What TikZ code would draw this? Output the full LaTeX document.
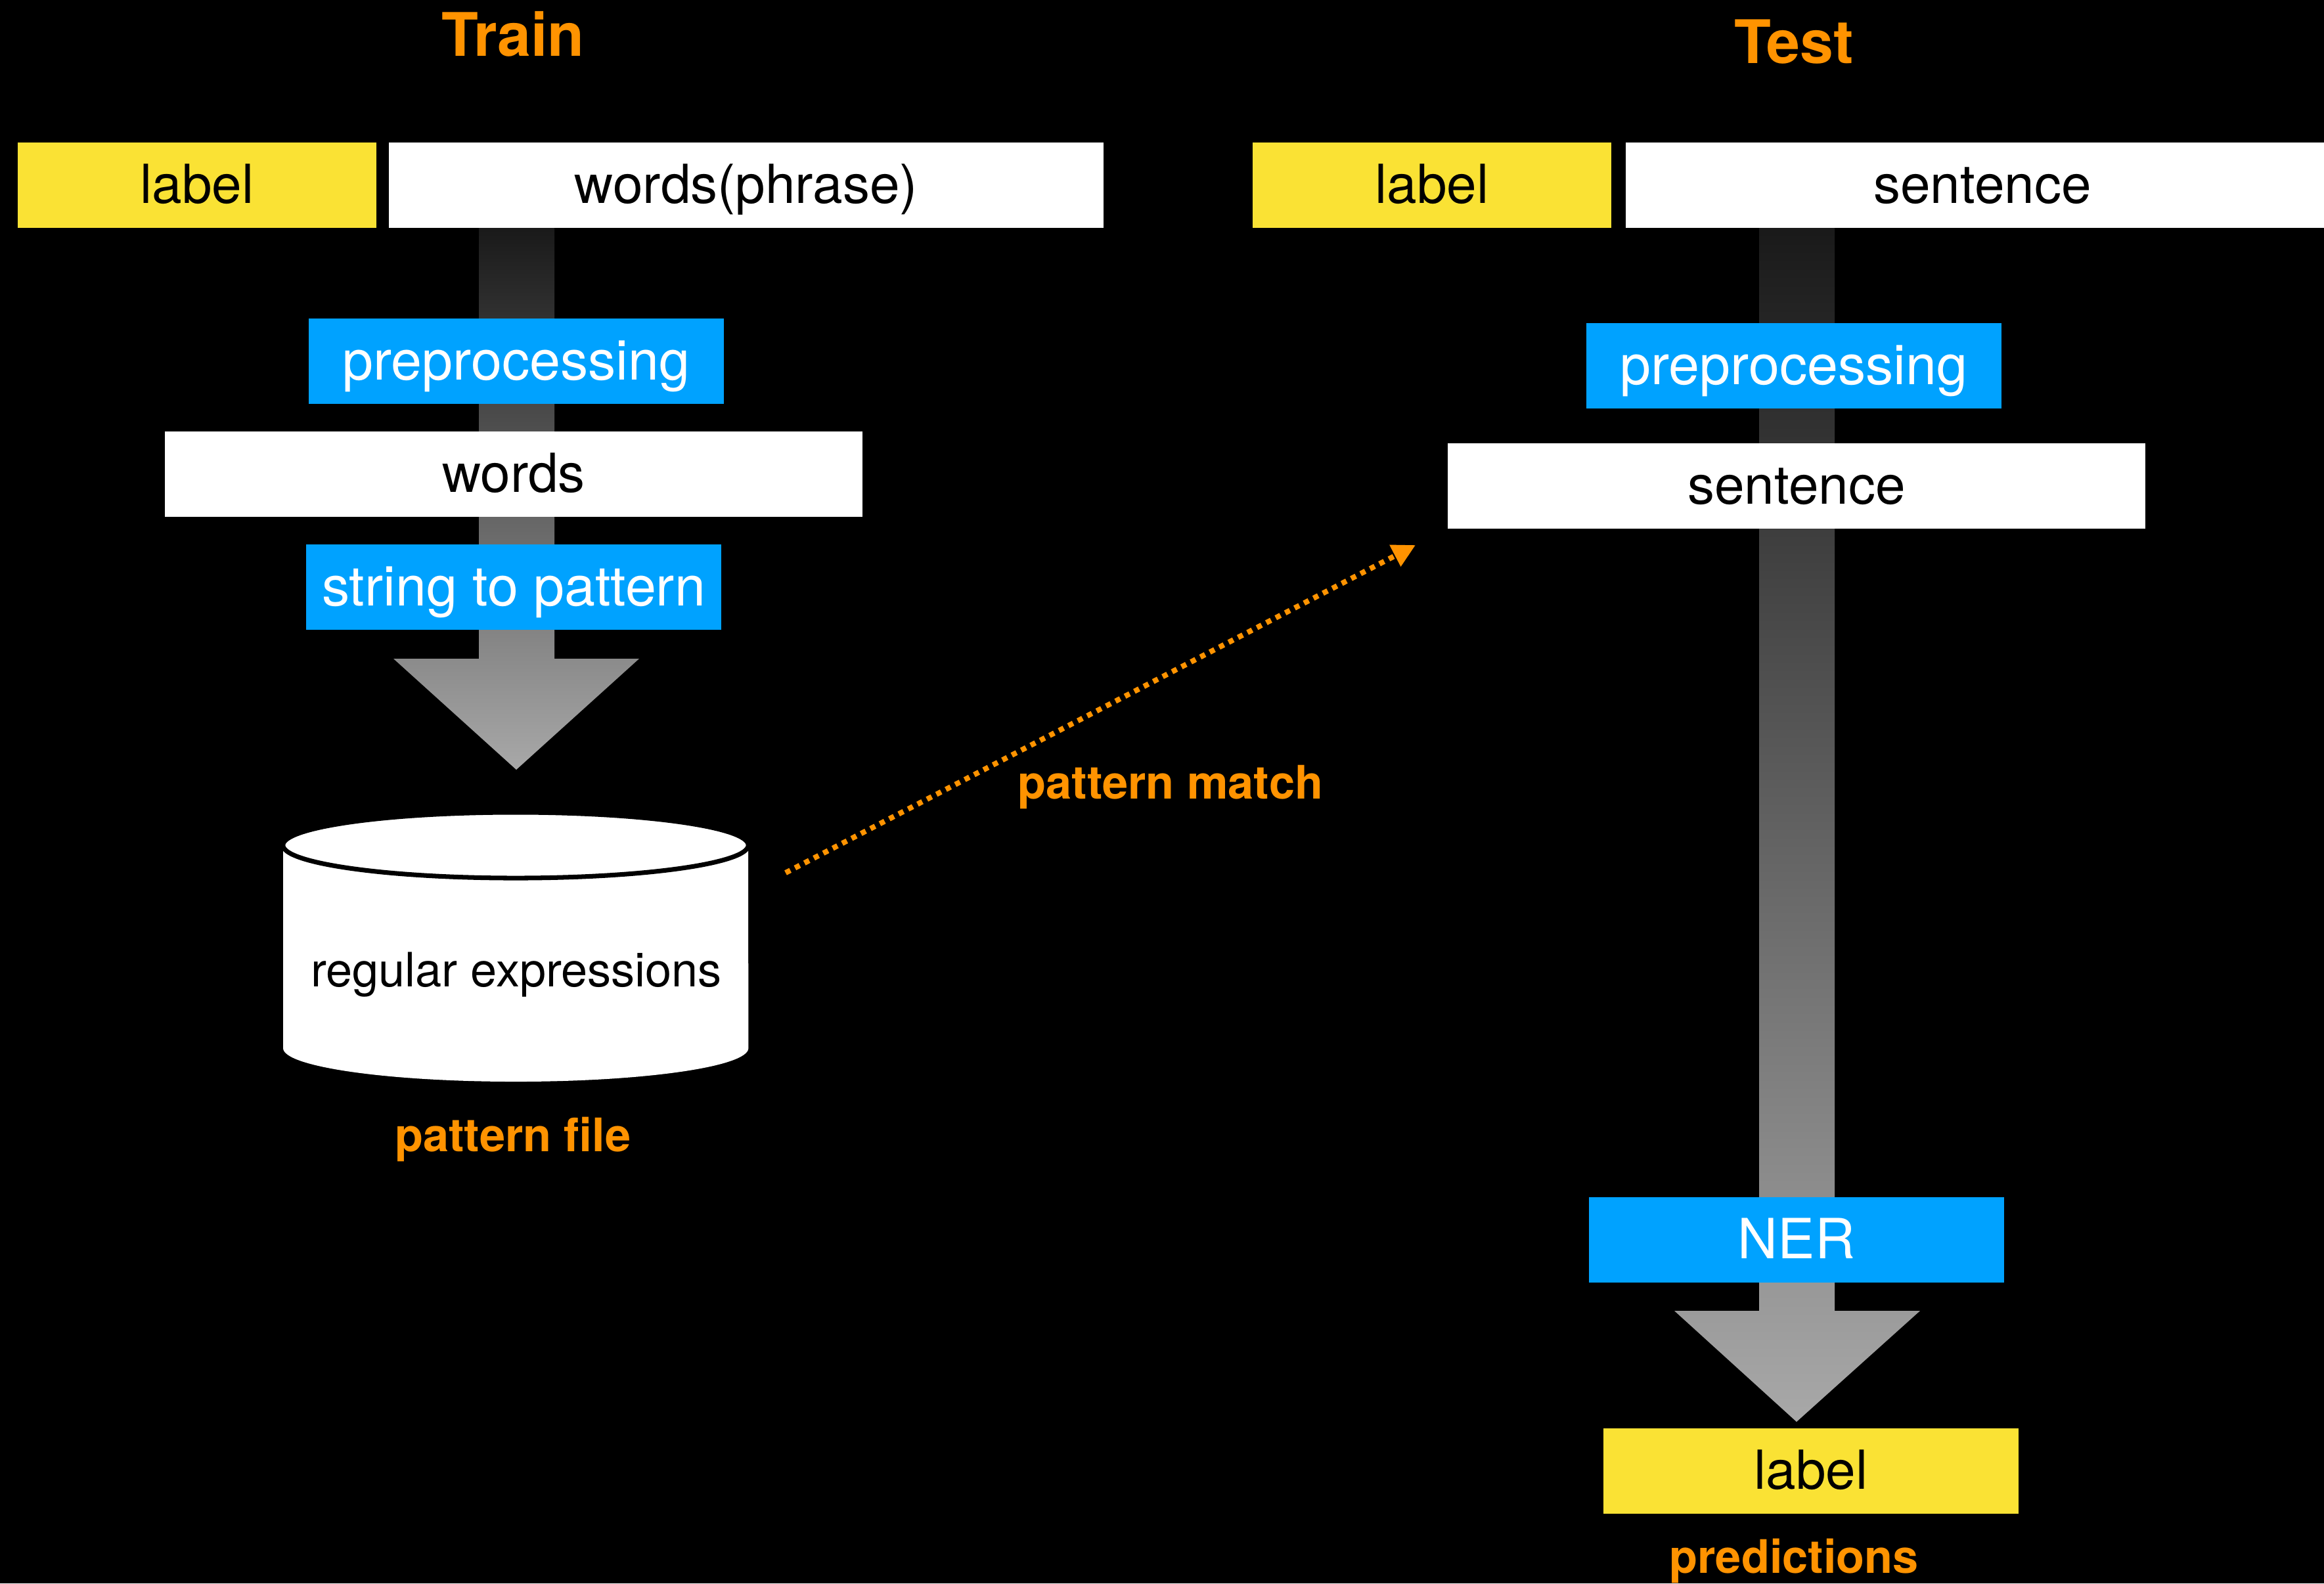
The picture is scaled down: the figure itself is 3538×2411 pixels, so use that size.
\documentclass[tikz,border=0pt]{standalone}
\usepackage{fontspec}
\setmainfont{TeX Gyre Heros}
\usetikzlibrary{arrows.meta}
\definecolor{kyellow}{RGB}{250,226,52}
\definecolor{kblue}{RGB}{0,162,255}
\definecolor{korange}{RGB}{255,147,0}
\begin{document}
\begin{tikzpicture}[x=0.01cm,y=-0.01cm,
  basebox/.style={inner sep=0pt, minimum height=1.30cm, text height=15.4pt, text depth=0pt,
    font=\fontsize{23.3pt}{28pt}\selectfont},
  ybox/.style={basebox, fill=kyellow, text=black},
  wbox/.style={basebox, fill=white, text=black},
  bluebox/.style={basebox, fill=kblue, text=white, text height=16pt, font=\fontsize{24pt}{28pt}\selectfont},
  heading/.style={text=korange, font=\fontsize{26pt}{30pt}\selectfont\bfseries, anchor=base, inner sep=0pt},
  caption/.style={text=korange, font=\fontsize{20pt}{24pt}\selectfont\bfseries, anchor=base, inner sep=0pt},
  flow/.style={top color=black!90, bottom color=black!34},
  matchline/.style={korange, line width=2.3pt, dash pattern=on 2.3pt off 2.3pt,
    -{Triangle[length=10pt,width=10pt]}}
]
% canvas
\fill[black] (0,0) rectangle (3538,2411);
\useasboundingbox (0,0) rectangle (3538,2411);
\clip (0,0) rectangle (3538,2411);

% block arrows (gradient)
\path[flow] (729,347) -- (844,347) -- (844,1003) -- (973,1003) -- (786,1172)
  -- (599,1003) -- (729,1003) -- cycle;
\path[flow] (2678,347) -- (2793,347) -- (2793,1996) -- (2923,1996) -- (2735,2165)
  -- (2549,1996) -- (2678,1996) -- cycle;

% titles
\node[heading] (train) at (781,85) {Train};
\node[heading] (test) at (2731,96) {Test};

% train column
\node[ybox, minimum width=5.46cm] (trlabel) at (300,282) {label};
\node[wbox, minimum width=10.88cm] (trwords) at (1136,282) {words(phrase)};
\node[bluebox, minimum width=6.32cm] (trpre) at (786,550) {preprocessing};
\node[wbox, minimum width=10.61cm] (words) at (782,722) {words};
\node[bluebox, minimum width=6.32cm, minimum height=1.29cm] (stp) at (782,894) {string to pattern};

% cylinder
\path[fill=white] (431,1286) -- (431,1596) arc[start angle=180, end angle=360, x radius=3.54cm, y radius=0.51cm]
  -- (1139,1286) -- cycle;
\draw[fill=white, line width=2pt] (785,1287) ellipse[x radius=3.54cm, y radius=0.50cm];
\node[anchor=base, inner sep=0pt, font=\fontsize{20.5pt}{24pt}\selectfont] (regex) at (786,1502) {regular expressions};
\node[caption] (pfile) at (781,1753) {pattern file};

% test column
\node[ybox, minimum width=5.45cm] (telabel) at (2180,282) {label};
\node[wbox, minimum width=10.86cm] (tesent) at (3018,282) {sentence};
\node[bluebox, minimum width=6.32cm, minimum height=1.29cm] (tepre) at (2731,557) {preprocessing};
\node[wbox, minimum width=10.62cm] (sent) at (2735,740) {sentence};
\node[bluebox, minimum width=6.32cm] (ner) at (2735,1888) {NER};
\node[ybox, minimum width=6.32cm] (outlabel) at (2757,2240) {label};
\node[caption] (pred) at (2731,2395) {predictions};

% pattern match connector
\coordinate (pmstart) at (1196,1329);
\coordinate (pmend) at (2155,830);
\draw[matchline] (pmstart) -- (pmend);
\node[caption] (pmatch) at (1782,1216) {pattern match};
\end{tikzpicture}
\end{document}
